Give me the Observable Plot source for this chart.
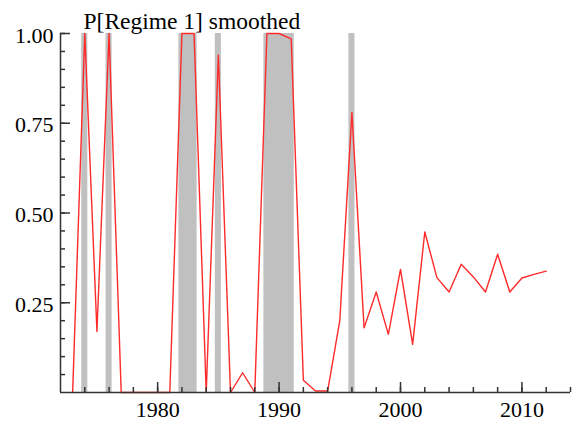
<!DOCTYPE html>
<html><head><meta charset="utf-8">
<script src="https://cdn.jsdelivr.net/npm/d3@7"></script>
<script src="https://cdn.jsdelivr.net/npm/@observablehq/plot@0.6"></script>
<style>html,body{margin:0;padding:0;background:#fff} #chart svg{display:block}</style>
</head><body><div id="chart"></div>
<script>
const years = [1973,1974,1975,1976,1977,1978,1979,1980,1981,1982,1983,1984,1985,1986,1987,1988,1989,1990,1991,1992,
  1993,1994,1995,1996,1997,1998,1999,2000,2001,2002,2003,2004,2005,2006,2007,2008,2009,2010,2011,2012];
const probRegime1 = [0,1.0,0.17,1.0,0,0,0,0,0,1.0,1.0,0,0.94,0,0.055,0,1.0,1.0,0.985,0.034,
  0.004,0.004,0.2,0.78,0.18,0.28,0.162,0.343,0.134,0.447,0.32,0.28,0.357,0.322,0.28,0.385,0.28,0.319,0.329,0.338];
const periodStart = [1974,1976,1982,1985,1989,1996];
const periodEnd   = [1974,1976,1983,1985,1991,1996];
const xMajorTicks = [1980,1990,2000,2010];
const xMinorTicks = [1974,1976,1978,1980,1982,1984,1986,1988,1990,1992,1994,1996,1998,2000,2002,2004,2006,2008,2010,2012,2014];
const yMajorTicks = [0.25,0.5,0.75,1.0];
const yMinorTicks = [0.05,0.1,0.15,0.2,0.25,0.3,0.35,0.4,0.45,0.5,0.55,0.6,0.65,0.7,0.75,0.8,0.85,0.9,0.95,1.0];
const title = "P[Regime 1] smoothed";

const series = years.map((y, i) => ({year: y, p: probRegime1[i]}));
const periods = periodStart.map((s, i) => ({start: s, end: periodEnd[i]}));
const axisColor = "#333";

const chart = Plot.plot({
  width: 572, height: 421,
  marginLeft: 60, marginRight: 2, marginTop: 33, marginBottom: 29,
  style: {fontFamily: "'Liberation Serif', 'Times New Roman', serif", fontSize: "22px", color: "#000", background: "#fff"},
  x: {domain: [1972, 2014], axis: null, label: null},
  y: {domain: [0, 1], axis: null, label: null},
  marks: [
    Plot.rect(periods, {x1: d => d.start - 0.25, x2: d => d.end + 0.25, y1: 0, y2: 1, fill: "#c0c0c0"}),
    Plot.line(series, {x: "year", y: "p", stroke: "#ff2a2a", strokeWidth: 1.4}),
    Plot.ruleX([1972], {y1: 0, y2: 1, stroke: axisColor, strokeWidth: 1.5}),
    Plot.ruleY([0], {x1: 1972, x2: 2014, stroke: axisColor, strokeWidth: 1.5}),
    Plot.axisY(yMinorTicks, {anchor: "left", tickSize: -5, text: null, label: null, stroke: axisColor, strokeWidth: 1.5}),
    Plot.axisY(yMajorTicks, {anchor: "left", tickSize: -10, text: null, label: null, stroke: axisColor, strokeWidth: 1.5}),
    Plot.axisY(yMajorTicks, {anchor: "left", tickSize: 0, tickPadding: 7, dy: 2, label: null, tickFormat: d3.format(".2f"), fill: "#000", fontSize: 22}),
    Plot.axisX(xMinorTicks, {anchor: "bottom", tickSize: -5, text: null, label: null, stroke: axisColor, strokeWidth: 1.5}),
    Plot.axisX(xMajorTicks, {anchor: "bottom", tickSize: -10, text: null, label: null, stroke: axisColor, strokeWidth: 1.5}),
    Plot.axisX(xMajorTicks, {anchor: "bottom", tickSize: 0, tickPadding: 9, label: null, tickFormat: d => String(d), fill: "#000", fontSize: 22}),
    Plot.text([title], {frameAnchor: "top-left", textAnchor: "start", lineAnchor: "bottom", dx: 23, dy: -5, fontSize: 23.5, fill: "#000"})
  ]
});
document.getElementById("chart").appendChild(chart);
</script></body></html>
